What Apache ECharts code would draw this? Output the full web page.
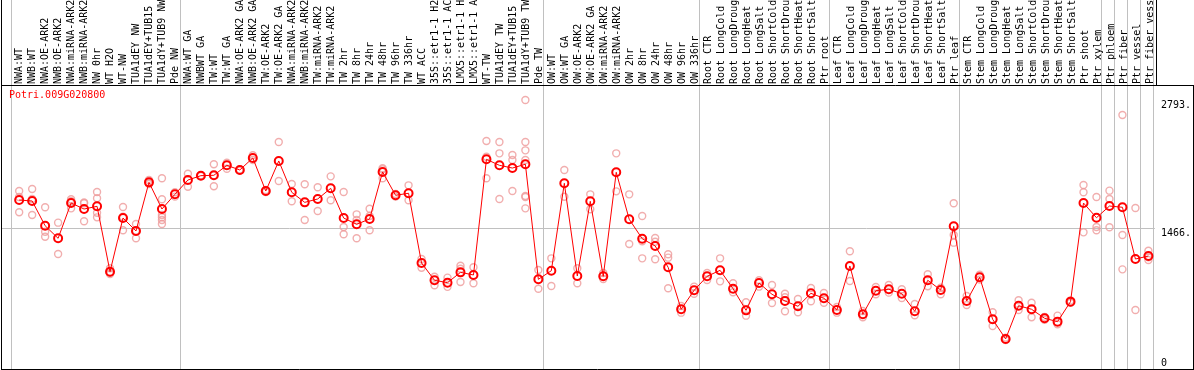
<!DOCTYPE html>
<html><head><meta charset="utf-8">
<script src="https://cdn.jsdelivr.net/npm/echarts@6/dist/echarts.min.js"></script>
<style>html,body{margin:0;padding:0;background:#fff}#c{width:1194px;height:370px}</style>
</head><body><div id="c"></div>
<script>
const geneTitle = 'Potri.009G020800';
const categories = [
  'NWA:WT','NWB:WT','NWA:OE-ARK2','NWB:OE-ARK2','NWA:miRNA-ARK2','NWB:miRNA-ARK2','NW 0hr','WT H2O','WT-NW','TUA1dEY NW','TUA1dEY+TUB15','TUA1dY+TUB9 NW','Pde NW',
  'NWA:WT GA','NWBWT GA','TW:WT','TW:WT GA','NWA:OE-ARK2 GA','NWB:OE-ARK2 GA','TW:OE-ARK2','TW:OE-ARK2 GA','NWA:miRNA-ARK2 GA','NWB:miRNA-ARK2 GA','TW:miRNA-ARK2','TW:miRNA-ARK2',
  'TW 2hr','TW 8hr','TW 24hr','TW 48hr','TW 96hr','TW 336hr','WT ACC','35S::etr1-1 H2O','35S::etr1-1 ACC','LMX5::etr1-1 H2O','LMX5::etr1-1 ACC','WT-TW','TUA1dEY TW','TUA1dEY+TUB15','TUA1dY+TUB9 TW','Pde TW',
  'OW:WT','OW:WT GA','OW:OE-ARK2','OW:OE-ARK2 GA','OW:miRNA-ARK2','OW:miRNA-ARK2','OW 2hr','OW 8hr','OW 24hr','OW 48hr','OW 96hr','OW 336hr',
  'Root CTR','Root LongCold','Root LongDrought','Root LongHeat','Root LongSalt','Root ShortCold','Root ShortDrought','Root ShortHeat','Root ShortSalt','Ptr root',
  'Leaf CTR','Leaf LongCold','Leaf LongDrought','Leaf LongHeat','Leaf LongSalt','Leaf ShortCold','Leaf ShortDrought','Leaf ShortHeat','Leaf ShortSalt','Ptr leaf',
  'Stem CTR','Stem LongCold','Stem LongDrought','Stem LongHeat','Stem LongSalt','Stem ShortCold','Stem ShortDrought','Stem ShortHeat','Stem ShortSalt','Ptr shoot','Ptr xylem',
  'Ptr phloem','Ptr fiber','Ptr vessel','Ptr fiber vessel'
];
const means = [
  1758,1748,1492,1362,1727,1665,1693,1017,1572,1438,1941,1665,1817,
  1965,2010,2014,2117,2069,2193,1851,2162,1838,1734,1769,1879,1572,1507,1562,2048,1807,1828,1107,928,903,1010,983,2179,2117,2089,2128,938,
  1027,1931,972,1745,969,2045,1559,1358,1283,1062,628,824,
  969,1031,841,617,900,783,714,659,793,742,
  621,1076,576,820,835,789,607,928,827,1486,
  714,959,524,321,665,628,535,500,707,1727,1575,
  1696,1683,1148,1179
];
const replicates = [
  [1851,1790,1631],[1872,1768,1603],[1683,1430,1379],[1524,1200],[1766,1745,1672],[1724,1733,1538],[1841,1776,1627,1579],[1052,1005,993],[1686,1586,1445],[1510,1440,1362],[1965,1934,1924],[1983,1766,1603,1551,1510,1580],[1838,1793],
  [2030,1896],[2015,2005],[2128,2014,1900],[2144,2082],[2075,2062],[2221,2172],[1862,1841],[2358,1955],[1924,1745],[1921,1551],[1890,1645],[2003,1755],[1841,1479,1404],[1610,1551,1362],[1668,1593,1445],[2086,2075,1983],[1793,1820],[1910,1755],[1148,1058],[965,876],[955,860],[1079,1048,910],[1062,897],[2369,2206,1983],[2358,2241,1769],[2224,2172,1851],[2793,2358,2272,2172,1800,1790,1672],[1034,841],
  [1155,869],[2069,1792],[1052,897],[1817,1662],[1003,941],[2241,1848],[1817,1303],[1593,1331,1155],[1365,1327,1145],[1197,1162,845],[662,593],[862,789],
  [1003,931],[1155,917],[897,804],[700,562],[928,862],[879,693],[789,752,607],[734,597],[848,711],[796,696],
  [652,593],[1228,921],[610,545],[858,783],[879,800],[835,745],[683,566],[990,866],[850,783],[1724,1396,1317],
  [765,672],[985,935],[597,455],[335,310],[721,620],[696,545],[550,520],[562,473],[720,695],[1913,1838,1424],[1789,1479,1445],
  [1855,1769,1476],[2637,1396,1041],[1676,621],[1234,1138,1165]
];
const groupBounds = [0, 13, 41, 53, 63, 73, 84, 85, 86, 87, 88];
const yLabelTicks = [1466, 2793];
const yZeroTick = [0];
const yGridTick = [1466];

const FONT = 'DejaVu Sans Mono';
const Y_MAX = 3827;
const meanData = means.map((v, i) => [i + 0.5, v]);
const repData = [];
replicates.forEach((arr, i) => arr.forEach(v => repData.push([i + 0.5, v])));

const chart = echarts.init(document.getElementById('c'), null, {renderer: 'canvas'});
chart.setOption({
  animation: false,
  backgroundColor: '#ffffff',
  title: {text: geneTitle, left: 9, top: 90, padding: 0,
    textStyle: {color: '#ff0000', fontSize: 10, fontFamily: FONT, fontWeight: 'normal'}},
  grid: [
    {left: 1, top: 0, width: 1156, height: 370},
    {left: 12.7, top: 85, width: 1144, height: 1}
  ],
  xAxis: [
    {type: 'value', gridIndex: 0, min: -0.9, max: 88,
      axisLine: {show: false}, axisLabel: {show: false},
      axisTick: {show: false, customValues: groupBounds.map(b => b - 0.1)},
      splitLine: {show: true, lineStyle: {color: '#c0c0c0', width: 1}}},
    {type: 'category', gridIndex: 1, position: 'top', data: categories, boundaryGap: true,
      axisLine: {show: false}, axisTick: {show: false}, splitLine: {show: false},
      axisLabel: {interval: 0, rotate: 90, margin: 2, fontSize: 10, fontFamily: FONT, color: '#000'}}
  ],
  yAxis: [
    {type: 'value', gridIndex: 0, min: 0, max: Y_MAX, position: 'right',
      axisLine: {show: false}, axisTick: {show: false, customValues: yLabelTicks}, splitLine: {show: false},
      axisLabel: {customValues: yLabelTicks, margin: 6, verticalAlign: 'top', fontSize: 10, fontFamily: FONT, color: '#000',
        formatter: v => v + '.'}},
    {type: 'value', gridIndex: 0, min: 0, max: Y_MAX, position: 'right',
      axisLine: {show: false}, axisTick: {show: false, customValues: yZeroTick}, splitLine: {show: false},
      axisLabel: {customValues: yZeroTick, margin: 6, verticalAlign: 'bottom', padding: [0, 0, 2, 0], fontSize: 10, fontFamily: FONT, color: '#000'}},
    {type: 'value', gridIndex: 0, min: 0, max: Y_MAX, position: 'right',
      axisLine: {show: false}, axisLabel: {show: false},
      axisTick: {show: false, customValues: yGridTick},
      splitLine: {show: true, lineStyle: {color: '#c0c0c0', width: 1}}},
    {type: 'value', gridIndex: 1, show: false}
  ],
  graphic: [
    {type: 'line', shape: {x1: 1.5, y1: 0, x2: 1.5, y2: 370}, style: {stroke: '#000', lineWidth: 1}, z: 100},
    {type: 'line', shape: {x1: 1, y1: 85.5, x2: 1194, y2: 85.5}, style: {stroke: '#000', lineWidth: 1}, z: 100},
    {type: 'line', shape: {x1: 1, y1: 369.5, x2: 1194, y2: 369.5}, style: {stroke: '#000', lineWidth: 1}, z: 100},
    {type: 'line', shape: {x1: 1193.5, y1: 85, x2: 1193.5, y2: 370}, style: {stroke: '#000', lineWidth: 1}, z: 100},
    {type: 'line', shape: {x1: 1156.5, y1: 0, x2: 1156.5, y2: 85}, style: {stroke: '#000', lineWidth: 1}, z: 100}
  ],
  series: [
    {type: 'scatter', xAxisIndex: 0, yAxisIndex: 0, data: repData, symbol: 'circle', symbolSize: 7,
      itemStyle: {color: 'rgba(255,255,255,0)', borderColor: '#ee9a9a', borderWidth: 1.4}, z: 2, silent: true},
    {type: 'line', xAxisIndex: 0, yAxisIndex: 0, data: meanData, symbol: 'circle', symbolSize: 8, showAllSymbol: true,
      lineStyle: {color: '#ff0000', width: 1},
      itemStyle: {color: 'rgba(255,255,255,0)', borderColor: '#ff0000', borderWidth: 2}, z: 3, silent: true}
  ]
});
</script>
</body></html>
